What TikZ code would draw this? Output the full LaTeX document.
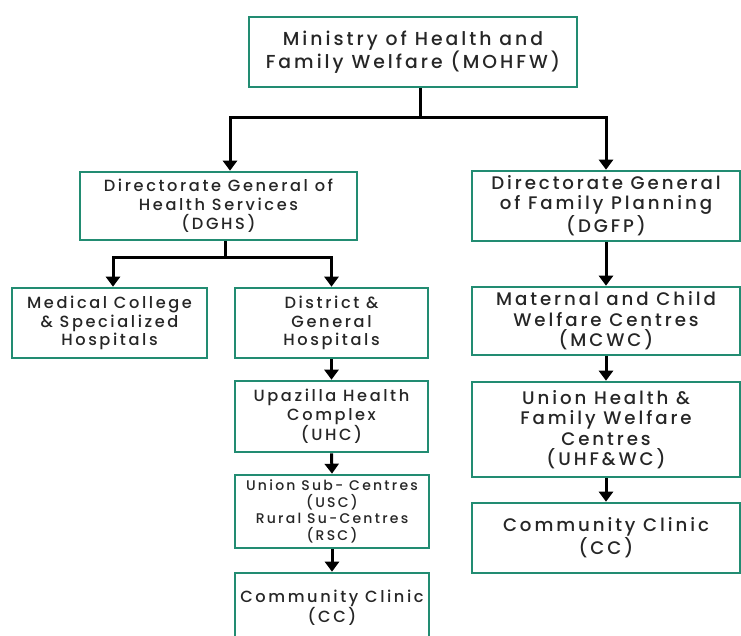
\documentclass[tikz,border=0pt]{standalone}
\usepackage{fontspec}
\setmainfont{Poppins}[UprightFont=* Medium, LetterSpace=16]
\usetikzlibrary{arrows.meta}
\definecolor{boxgreen}{RGB}{34,140,114}
\definecolor{txt}{RGB}{38,38,38}
\tikzset{
  box/.style={draw=boxgreen, line width=2.6pt, fill=white, inner sep=0pt, align=center, text=txt},
  conn/.style={line width=3pt, black},
  arr/.style={conn, -{Triangle[width=14pt,length=10pt]}}
}
\begin{document}
\begin{tikzpicture}[x=1pt,y=-1pt]
\useasboundingbox (0,0) rectangle (741,636);
\fill[white] (0,0) rectangle (741,636);
\clip (0,0) rectangle (741,636);

\node[box, minimum width=328pt, minimum height=70pt, font=\fontsize{18.8}{20.5}\selectfont] (mohfw) at (413,52) {Ministry of Health and\\Family Welfare (MOHFW)};
\node[box, minimum width=277pt, minimum height=68pt, font=\fontsize{16.2}{19}\selectfont] (dghs) at (218.5,206) {Directorate General of\\Health Services\\(DGHS)};
\node[box, minimum width=268pt, minimum height=70pt, font=\fontsize{18.2}{20}\selectfont] (dgfp) at (606,206) {Directorate General\\of Family Planning\\(DGFP)};
\node[box, minimum width=195pt, minimum height=70pt, font=\fontsize{16.2}{18.5}\selectfont] (mc) at (109.5,323) {Medical College\\\& Specialized\\Hospitals};
\node[box, minimum width=193pt, minimum height=70pt, font=\fontsize{16.2}{18.5}\selectfont] (dist) at (331.5,323) {District \&\\General\\Hospitals};
\node[box, minimum width=268pt, minimum height=68pt, font=\fontsize{18.2}{20.5}\selectfont] (mcwc) at (606,321) {Maternal and Child\\Welfare Centres\\(MCWC)};
\node[box, minimum width=193pt, minimum height=71pt, font=\fontsize{16.2}{19}\selectfont] (uhc) at (331.5,416.5) {Upazilla Health\\Complex\\(UHC)};
\node[box, minimum width=268pt, minimum height=95pt, font=\fontsize{18.2}{20.5}\selectfont] (uhf) at (606,429.5) {Union Health \&\\Family Welfare\\Centres\\(UHF\&WC)};
\node[box, minimum width=194pt, minimum height=73pt, font=\fontsize{14}{16.5}\selectfont] (usc) at (332,511.5) {Union Sub- Centres\\(USC)\\Rural Su-Centres\\(RSC)};
\node[box, minimum width=194pt, minimum height=70pt, font=\fontsize{16.2}{18.5}\selectfont] (ccl) at (332,608) {Community Clinic\\(CC)};
\node[box, minimum width=268pt, minimum height=70pt, font=\fontsize{18.2}{20.5}\selectfont] (ccr) at (606,538) {Community Clinic\\(CC)};

\coordinate (j1) at (420,118);
\coordinate (j2) at (225,258);
\draw[arr] ([xshift=7]mohfw.south) -- (j1) -| ([xshift=11.5]dghs.north);
\draw[arr] ([xshift=7]mohfw.south) -- (j1) -| (dgfp.north);
\draw[arr] ([xshift=6.5]dghs.south) -- (j2) -| ([xshift=3.5]mc.north);
\draw[arr] ([xshift=6.5]dghs.south) -- (j2) -| (dist.north);
\draw[arr] (dgfp.south) -- (mcwc.north);
\draw[arr] (mcwc.south) -- (uhf.north);
\draw[arr] (uhf.south) -- (ccr.north);
\draw[arr] (dist.south) -- (uhc.north);
\draw[arr] (uhc.south) -- (usc.north);
\draw[arr] (usc.south) -- (ccl.north);
\end{tikzpicture}
\end{document}
